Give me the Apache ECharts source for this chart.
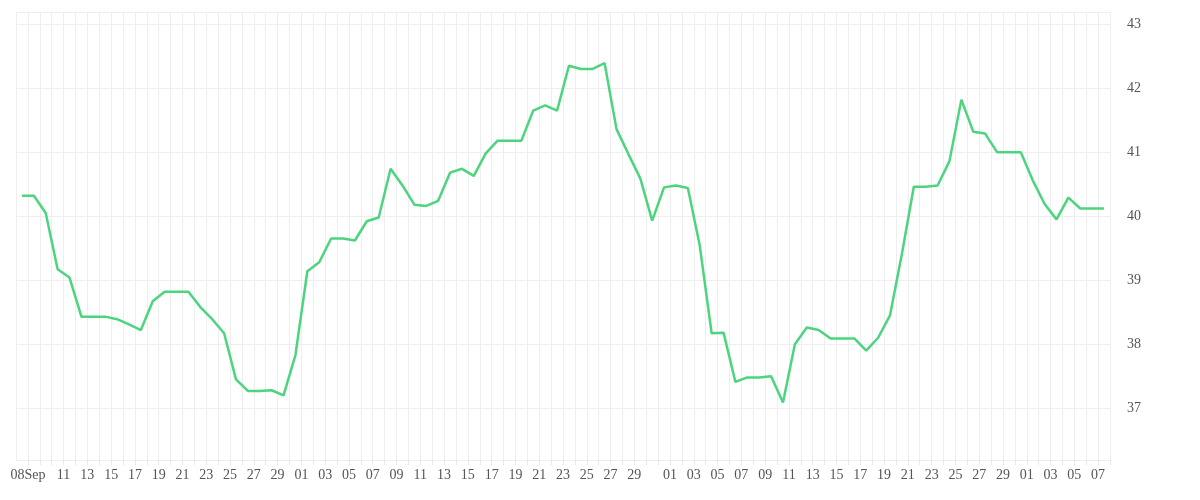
<!DOCTYPE html>
<html><head><meta charset="utf-8">
<script src="https://cdn.jsdelivr.net/npm/echarts@6/dist/echarts.min.js"></script>
<style>html,body{margin:0;padding:0;background:#fff}#c{width:1200px;height:500px}</style>
</head><body><div id="c"></div>
<script>
// one value per day, Sep 7 .. Dec 7
const values = [40.32,40.32,40.05,39.17,39.04,38.43,38.43,38.43,38.39,38.31,38.22,38.67,38.82,38.82,38.82,38.58,38.39,38.17,37.45,37.27,37.27,37.28,37.2,37.83,39.14,39.28,39.65,39.65,39.62,39.92,39.98,40.74,
40.48,40.18,40.16,40.24,40.68,40.74,40.63,40.98,41.18,41.18,41.18,41.65,41.73,41.65,42.35,42.30,42.30,42.39,41.36,40.97,40.59,39.93,40.45,40.48,40.44,39.54,38.17,38.18,37.41,37.48,37.48,37.50,
37.09,38.0,38.26,38.22,38.09,38.09,38.09,37.90,38.10,38.45,39.41,40.46,40.46,40.48,40.86,41.82,41.32,41.29,41.0,41.0,41.0,40.56,40.19,39.95,40.29,40.12,40.12,40.12];
const monthNames = ['Jan','Feb','Mar','Apr','May','Jun','Jul','Aug','Sep','Oct','Nov','Dec'];
function dayList(n){const out=[];const d=new Date(Date.UTC(2023,8,7));for(let i=0;i<n;i++){out.push({m:d.getUTCMonth(),d:d.getUTCDate()});d.setUTCDate(d.getUTCDate()+1);}return out;}
const dataDays = dayList(values.length);
const tickDays = dayList(values.length+1);
const dataCats = dataDays.map(x=>x.m+'-'+x.d);
const tickCats = tickDays.map(x=>x.m+'-'+x.d);
function showLabel(i){const t=tickDays[i];if(t.m===8&&t.d===8)return true;if(t.m===8&&t.d===9)return false;if(i===tickDays.length-1)return false;return t.d%2===1&&t.d!==31;}
const chart = echarts.init(document.getElementById('c'));
const labelFont = {fontFamily:'Liberation Serif',fontSize:14,color:'#555'};
chart.setOption({
  animation:false,
  grid:{left:16,right:90,top:12,bottom:40},
  xAxis:[{type:'category',data:dataCats,boundaryGap:true,show:false},
    {type:'category',data:tickCats,boundaryGap:false,position:'bottom',
     axisLine:{show:false},
     axisTick:{show:true,interval:0,length:5,lineStyle:{color:'#e6e6e6'}},
     splitLine:{show:true,interval:0,lineStyle:{color:'#eeeeee'}},
     axisLabel:Object.assign({interval:(i)=>showLabel(i),margin:8,formatter:(v,i)=>{const t=tickDays[i];const dd=String(t.d).padStart(2,'0');return (t.m===8&&t.d===8)?dd+monthNames[t.m]:dd;}},labelFont)}],
  yAxis:{type:'value',position:'right',min:36.19,max:43.19,
    axisLine:{show:false},axisTick:{show:false},
    splitLine:{lineStyle:{color:'#eeeeee'}},
    axisLabel:Object.assign({showMinLabel:false,showMaxLabel:false,margin:17},labelFont)},
  series:[{type:'line',xAxisIndex:0,data:values,symbol:'none',lineStyle:{color:'#4cd57e',width:2.5}}]
});
</script></body></html>
